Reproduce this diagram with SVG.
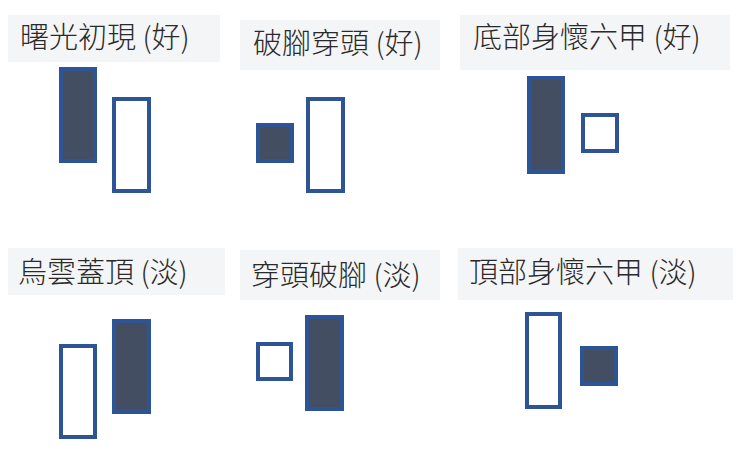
<svg xmlns="http://www.w3.org/2000/svg" width="740" height="474" viewBox="0 0 740 474">
<style>
.bg{fill:#f4f5f6}
.t{font-family:"Noto Sans CJK TC","Noto Sans CJK SC",sans-serif;font-size:29px;font-weight:300;fill:#2a2a2a}
.f{fill:#434e63;stroke:#2d5596;stroke-width:4}
.h{fill:#fff;stroke:#2d5596;stroke-width:4}
</style>
<rect width="740" height="474" fill="#fff"/>
<g id="p1"><rect class="bg" x="8" y="15" width="212" height="47"/><text class="t" x="20" y="48">曙光初現 (好)</text>
<rect class="f" x="61" y="69" width="34" height="92"/><rect class="h" x="114" y="99" width="35" height="92"/></g>
<g id="p2"><rect class="bg" x="240" y="20" width="200" height="50"/><text class="t" x="253" y="54">破腳穿頭 (好)</text>
<rect class="f" x="258" y="125" width="34" height="36"/><rect class="h" x="308" y="99" width="35" height="92"/></g>
<g id="p3"><rect class="bg" x="460" y="15" width="270" height="55"/><text class="t" x="473" y="48">底部身懷六甲 (好)</text>
<rect class="f" x="529" y="78" width="34" height="94"/><rect class="h" x="583" y="115" width="34" height="36"/></g>
<g id="p4"><rect class="bg" x="8" y="248" width="217" height="47"/><text class="t" x="18" y="283">烏雲蓋頂 (淡)</text>
<rect class="h" x="61" y="346" width="34" height="91"/><rect class="f" x="114" y="321" width="35" height="91"/></g>
<g id="p5"><rect class="bg" x="240" y="250" width="200" height="50"/><text class="t" x="251" y="286">穿頭破腳 (淡)</text>
<rect class="h" x="258" y="344" width="33" height="35"/><rect class="f" x="307" y="317" width="35" height="92"/></g>
<g id="p6"><rect class="bg" x="458" y="248" width="275" height="52"/><text class="t" x="469" y="283">頂部身懷六甲 (淡)</text>
<rect class="h" x="527" y="314" width="33" height="93"/><rect class="f" x="582" y="348" width="34" height="36"/></g>
<g id="connectors"/>
</svg>
